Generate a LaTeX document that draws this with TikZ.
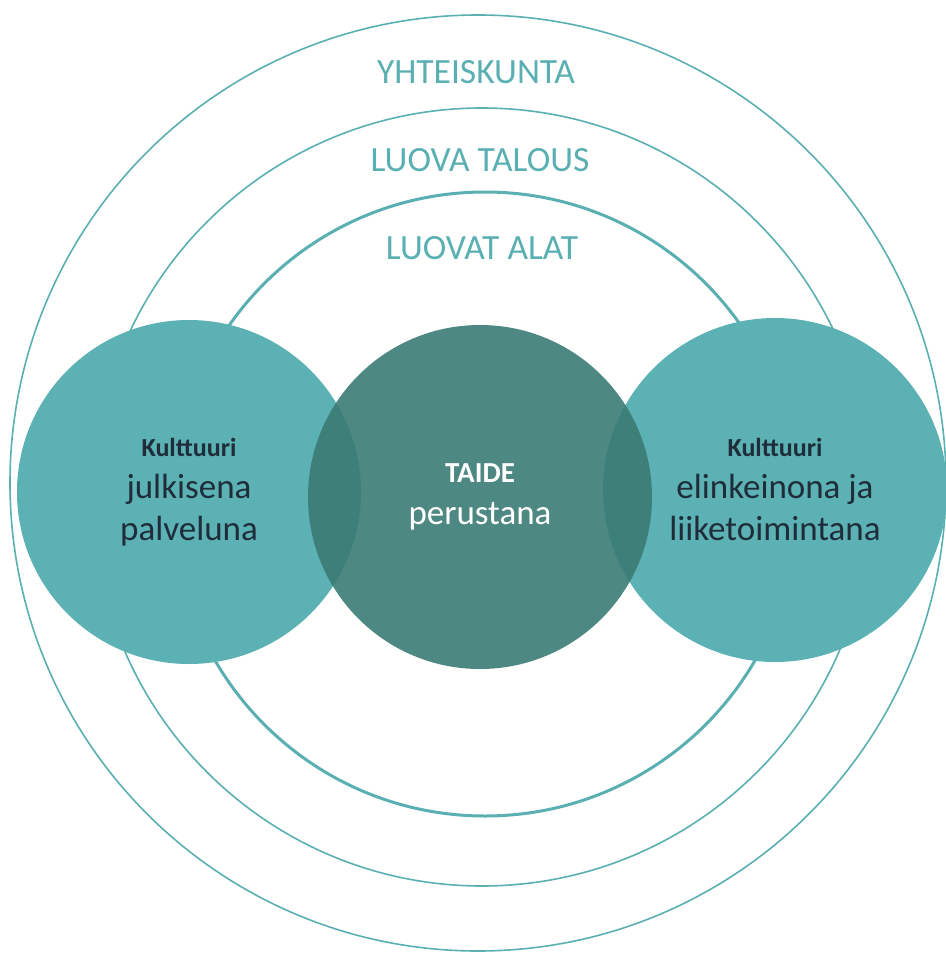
\documentclass[tikz,border=0pt]{standalone}
\usepackage{fontspec}
\setmainfont{Carlito}
\definecolor{ring}{HTML}{5AAFB2}
\definecolor{side}{HTML}{5BB1B4}
\definecolor{core}{HTML}{3A7B74}
\definecolor{ink}{HTML}{1F2D3A}

\begin{document}
\begin{tikzpicture}[x=1pt,y=-1pt,
    ringline/.style={draw=ring,line width=1.6pt},
    disc/.style={circle,inner sep=0pt,minimum size=344pt,align=center,
      font=\fontsize{35}{42}\selectfont},
    ringlabel/.style={text=ring,font=\fontsize{35.5}{40}\selectfont}]
            \useasboundingbox (0,0) rectangle (945,955);

            % rings
            \coordinate (yo) at (478,483);
            \coordinate (lto) at (482,497);
            \coordinate (lao) at (485,504);
            \draw[ringline](yo) circle[radius=468];
            \draw[ringline](lto) circle[radius=389];
            \draw[ringline,line width=3pt](lao) circle[radius=312];

            \node[ringlabel] (yk) at (476,72) {YHTEISKUNTA};
            \node[ringlabel] (lt) at (480,160) {LUOVA TALOUS};
            \node[ringlabel] (la) at (482,248) {LUOVAT ALAT};

            % circles
            \node[disc,fill=side,text=ink] (jp) at (189,492)
                {{\fontsize{26}{42}\selectfont\bfseries Kulttuuri}\\julkisena\\palveluna};
            \node[disc,fill=side,text=ink] (el) at (775,490)
                {{\fontsize{26}{42}\selectfont\bfseries Kulttuuri}\\elinkeinona ja\\liiketoimintana};
            \node[disc,fill=core,fill opacity=0.9,text opacity=1,text=white] (ta) at (480,497)
                {{\fontsize{29}{42}\selectfont\bfseries TAIDE}\\perustana};

        \end{tikzpicture}
\end{document}
